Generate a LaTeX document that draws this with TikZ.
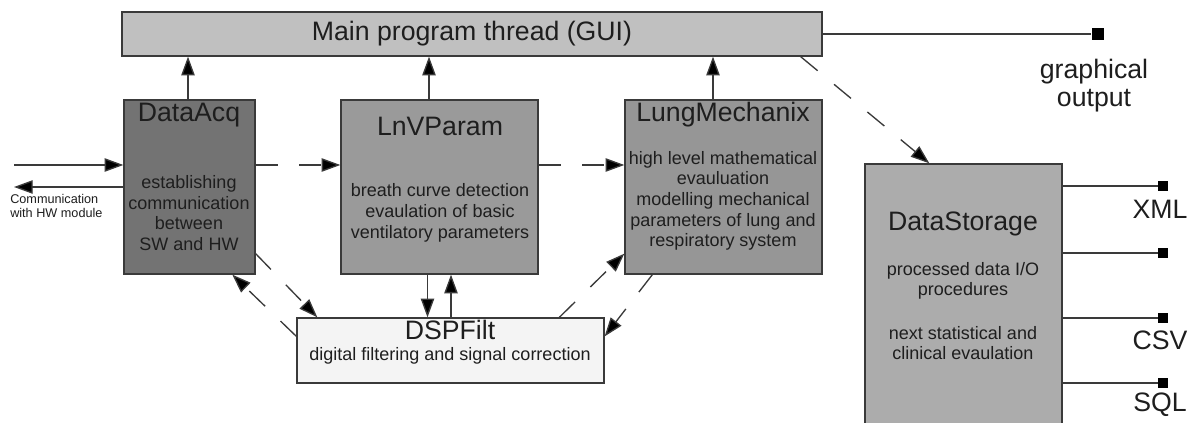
\documentclass[tikz,border=0pt]{standalone}
\usepackage{fontspec}
\setmainfont{Liberation Sans}
\usetikzlibrary{arrows.meta,fit,calc}
\definecolor{linec}{HTML}{3A3A3A}
\definecolor{txt}{HTML}{1E1E1E}
\definecolor{mainfill}{HTML}{C0C0C0}
\definecolor{daqfill}{HTML}{737373}
\definecolor{lnvfill}{HTML}{9A9A9A}
\definecolor{lungfill}{HTML}{969696}
\definecolor{dsfill}{HTML}{ACACAC}
\definecolor{dspfill}{HTML}{F4F4F4}
\tikzset{
  box/.style={draw=linec, line width=1pt, inner sep=0pt},
  title/.style={font=\fontsize{20}{21}\selectfont, text=txt, inner sep=0pt, align=center},
  sub/.style={font=\fontsize{13.5}{15.5}\selectfont, text=txt, inner sep=0pt, align=center},
  small/.style={font=\fontsize{9.5}{11.2}\selectfont, text=txt, inner sep=0pt, align=left},
  ln/.style={draw=linec, line width=1pt},
  arr/.style={ln, -{Triangle[length=14pt,width=10pt,fill=black]}},
  darr/.style={arr, dash pattern=on 16.5pt off 16pt},
  sqbig/.style={fill=black, minimum size=9.5pt, inner sep=0pt},
  sqsm/.style={fill=black, minimum size=7.5pt, inner sep=0pt}
}
\begin{document}
\begin{tikzpicture}[x=0.75pt,y=-0.75pt]
\useasboundingbox (0,0) rectangle (1195,423);
\clip (0,0) rectangle (1195,423);
\fill[white] (0,0) rectangle (1195,423);
% boxes
\coordinate (m1) at (122,12); \coordinate (m2) at (822,56);
\node[box, fill=mainfill, fit=(m1)(m2)] (main) {};
\coordinate (a1) at (124,100); \coordinate (a2) at (255,274);
\node[box, fill=daqfill, fit=(a1)(a2)] (daq) {};
\coordinate (b1) at (341,100); \coordinate (b2) at (538,274);
\node[box, fill=lnvfill, fit=(b1)(b2)] (lnv) {};
\coordinate (c1) at (625,100); \coordinate (c2) at (822,274);
\node[box, fill=lungfill, fit=(c1)(c2)] (lung) {};
\coordinate (d1) at (865,164); \coordinate (d2) at (1062,440);
\node[box, fill=dsfill, fit=(d1)(d2)] (ds) {};
\coordinate (e1) at (297,318); \coordinate (e2) at (604,383);
\node[box, fill=dspfill, fit=(e1)(e2)] (dsp) {};
% texts
\node[title] (maint) at (472,34) {Main program thread (GUI)};
\node[title] (daqt) at (189,115) {DataAcq};
\node[sub] (daqs) at (189,213) {establishing\\communication\\between\\SW and HW};
\node[title] (lnvt) at (440,126) {LnVParam};
\node[sub] (lnvs) at (440,213) {breath curve detection\\evaulation of basic\\ventilatory parameters};
\node[title] (lungt) at (723,115) {LungMechanix};
\node[sub] (lungs) at (723,201) {high level mathematical\\evauluation\\modelling mechanical\\parameters of lung and\\respiratory system};
\node[title] (dst) at (963,224) {DataStorage};
\node[sub] (dss1) at (963,281) {processed data I/O\\procedures};
\node[sub] (dss2) at (963,343) {next statistical and\\clinical evaulation};
\node[title] (dspt) at (450,330) {DSPFilt};
\node[sub] (dsps) at (450,356) {digital filtering and signal correction};
\node[small, anchor=west] (comm) at (10,206) {Communication\\with HW module};
% outputs
\node[sqbig] (go) at (1098,34) {};
\node[title] (got) at (1094,86) {graphical\\output};
\draw[ln] (main.east |- go) -- (go);
\node[sqsm] (o1) at (1163,186) {};
\node[sqsm] (o2) at (1163,253) {};
\node[sqsm] (o3) at (1163,318) {};
\node[sqsm] (o4) at (1163,383) {};
\foreach \o in {o1,o2,o3,o4} \draw[ln] (\o -| ds.east) -- (\o);
\node[title] (xml) at (1160,209) {XML};
\node[title] (csv) at (1160,340) {CSV};
\node[title] (sql) at (1160,405) {SQL};
% up arrows to main
\coordinate (u1) at ($(daq.north)+(-1.5,0)$);
\coordinate (u2) at ($(lnv.north)+(-10.5,0)$);
\coordinate (u3) at ($(lung.north)+(-10.5,0)$);
\foreach \u in {u1,u2,u3} \draw[arr] (\u) -- (\u |- main.south);
% HW communication
\coordinate (hin) at (14,165);
\coordinate (hout) at (14,187);
\draw[arr] (hin) -- (hin -| daq.west);
\draw[arr] (hout -| daq.west) -- (hout);
% dashed chain
\draw[darr] (hin -| daq.east) -- (hin -| lnv.west);
\draw[darr] (hin -| lnv.east) -- (hin -| lung.west);
% LnV <-> DSP
\coordinate (p1) at ($(lnv.south)+(-12,0)$);
\coordinate (p2) at ($(lnv.south)+(11.5,0)$);
\draw[arr] (p1) -- (p1 |- dsp.north);
\draw[arr] (p2 |- dsp.north) -- (p2);
% dashed diagonals
\draw[darr] ($(daq.south east)+(0,-21)$) -- ($(dsp.north west)+(21,0)$);
\draw[darr] ($(dsp.north west)+(0,19)$) -- ($(daq.south west)+(109,0)$);
\draw[darr] ($(dsp.north west)+(263,0)$) -- ($(lung.south west)+(0,-21)$);
\draw[darr] ($(lung.south west)+(28,0)$) -- ($(dsp.north east)+(0,19)$);
\draw[darr] ($(main.south east)+(-22,0)$) -- ($(ds.north west)+(65,0)$);
\end{tikzpicture}
\end{document}
